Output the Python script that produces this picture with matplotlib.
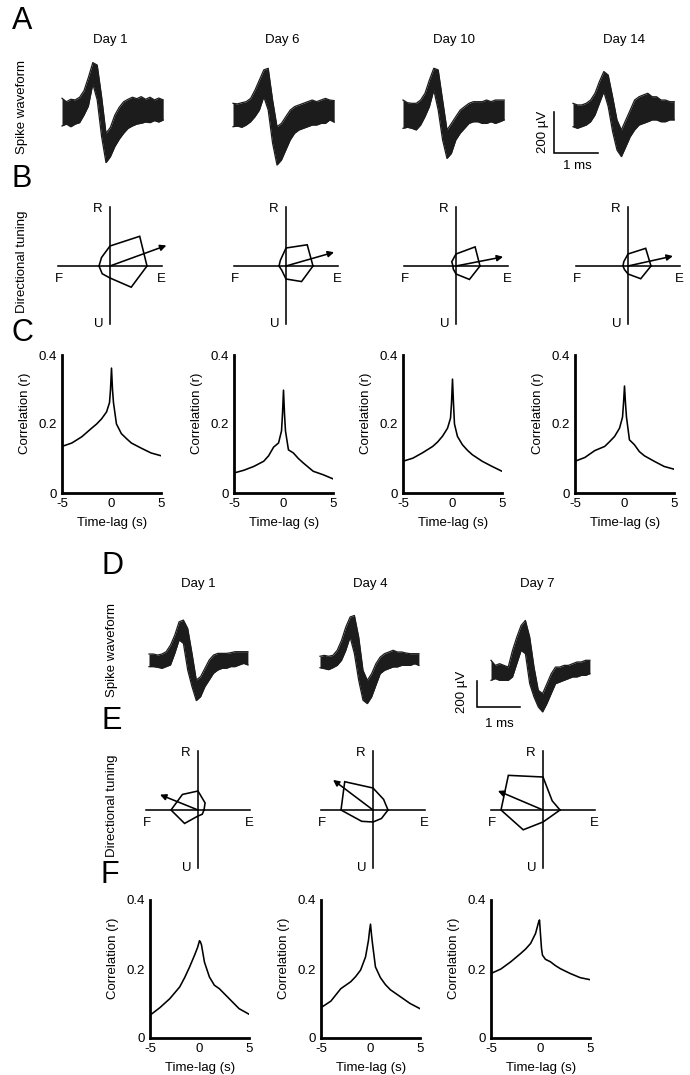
import numpy as np
import matplotlib
matplotlib.use('Agg')
import matplotlib.pyplot as plt

plt.rcParams['font.family'] = ['Liberation Sans', 'DejaVu Sans']
plt.rcParams['axes.unicode_minus'] = False

# ---------------- data ----------------
wave_t = [0.0, 0.1, 0.2, 0.3, 0.4, 0.5, 0.6, 0.7, 0.8, 0.9, 1.0, 1.1,
          1.2, 1.3, 1.4, 1.5, 1.6, 1.7, 1.8, 1.9, 2.0, 2.1, 2.2, 2.3]  # ms

# Panel A waveform envelopes (uV)
a_days = ['Day 1', 'Day 6', 'Day 10', 'Day 14']
a_upper = [
    [67, 50, 62, 59, 72, 104, 169, 241, 229, 75, -104, -75, -15, 23, 50, 62, 72, 65, 75, 62, 72, 59, 68, 59],
    [57, 54, 60, 65, 81, 122, 171, 220, 228, 73, -57, -41, -8, 24, 41, 49, 57, 65, 73, 65, 73, 81, 73, 70],
    [73, 60, 57, 57, 73, 106, 171, 228, 220, 73, -73, -41, -8, 24, 41, 57, 65, 65, 65, 73, 65, 73, 73, 73],
    [57, 49, 49, 57, 73, 106, 163, 212, 195, 89, -24, -73, -24, 24, 73, 89, 98, 106, 89, 89, 73, 73, 65, 65],
]
a_lower = [
    [-68, -59, -72, -59, -52, -15, 29, 137, 59, -120, -247, -218, -169, -133, -104, -80, -68, -59, -55, -49, -52, -42, -49, -39],
    [-57, -54, -60, -49, -33, -8, 24, 89, 24, -138, -244, -220, -171, -122, -89, -73, -65, -57, -49, -49, -41, -41, -24, -35],
    [-65, -60, -65, -73, -49, -8, 41, 122, 24, -122, -212, -187, -122, -89, -65, -41, -33, -33, -41, -41, -33, -41, -33, -24],
    [-57, -65, -57, -49, -33, 0, 57, 114, 41, -81, -171, -203, -155, -106, -73, -49, -41, -33, -24, -24, -33, -33, -24, -24],
]

# Panel D waveform envelopes (uV)
d_days = ['Day 1', 'Day 4', 'Day 7']
d_upper = [
    [46, 46, 38, 46, 64, 115, 192, 294, 307, 243, 51, -154, -128, -64, 0, 38, 51, 51, 51, 56, 64, 64, 64, 64],
    [44, 51, 44, 51, 90, 166, 269, 346, 358, 192, -64, -141, -90, -13, 38, 64, 77, 90, 77, 77, 69, 64, 64, 64],
    [90, 51, 64, 51, 38, 166, 269, 358, 397, 269, 38, -141, -166, -90, -13, 38, 38, 51, 51, 64, 77, 77, 90, 90],
]
d_lower = [
    [-51, -51, -56, -64, -51, -38, 51, 154, 128, -77, -205, -312, -282, -205, -154, -102, -77, -64, -64, -51, -51, -38, -26, -38],
    [-44, -51, -59, -44, -26, 13, 90, 192, 64, -141, -294, -320, -269, -179, -90, -64, -51, -38, -38, -26, -26, -26, -13, -26],
    [-64, -51, -64, -64, -64, -38, 64, 166, 141, -90, -192, -269, -307, -243, -166, -90, -77, -64, -51, -38, -38, -26, -26, -13],
]

# Directional tuning (8 directions; radius in arbitrary units)
tuning_dirs = [0, 45, 90, 135, 180, 225, 270, 315]
b_radii = [
    [37, 42, 20, 12, 11, 11, 12, 30],
    [27, 30, 18, 8, 7, 6, 13, 22],
    [24, 27, 12, 6, 3, 4, 8, 19],
    [23, 25, 12, 6, 5, 5, 8, 18],
]
b_pd_angle = [20, 16, 11, 12.5]
b_pd_len = [60, 50, 48, 46]
e_radii = [
    [6, 10, 19, 22, 27, 19, 6, 6],
    [15, 15, 22, 40, 32, 16, 12, 12],
    [17, 13, 33, 49, 42, 28, 12, 10],
]
e_pd_angle = [158, 143, 157]
e_pd_len = [41, 50, 49]

# Cross-correlation
lags = [-5, -4, -3, -2, -1.5, -1, -0.5, -0.2, -0.1, 0, 0.1, 0.2, 0.5, 1, 1.5, 2, 3, 4, 5]
c_corr = [
    [.135, .145, .163, .188, .200, .215, .235, .262, .300, .362, .300, .262, .200, .172, .158, .145, .130, .116, .108],
    [.058, .066, .077, .092, .108, .133, .145, .180, .230, .298, .230, .180, .125, .116, .100, .087, .063, .053, .041],
    [.092, .101, .117, .135, .148, .165, .188, .217, .260, .330, .260, .200, .164, .140, .124, .111, .092, .077, .063],
    [.092, .103, .123, .135, .149, .164, .188, .220, .260, .310, .260, .220, .154, .140, .120, .108, .092, .077, .069],
]
f_corr = [
    [.066, .088, .114, .148, .175, .206, .240, .262, .272, .282, .278, .270, .220, .177, .153, .143, .114, .085, .069],
    [.088, .107, .143, .163, .178, .197, .235, .284, .310, .330, .300, .274, .206, .175, .155, .140, .120, .100, .085],
    [.187, .200, .221, .245, .258, .274, .303, .335, .342, .300, .260, .240, .228, .221, .210, .201, .187, .175, .169],
]

# ---------------- layout helpers ----------------
W, H = 690, 1075
fig = plt.figure(figsize=(W / 100, H / 100), dpi=100)
FS = 9.5
LW = 1.15


def rect(x0, y0, w, h):
    return [x0 / W, 1 - (y0 + h) / H, w / W, h / H]


def ftext(x, y, s, **kw):
    kw.setdefault('fontsize', FS)
    fig.text(x / W, 1 - y / H, s, ha='center', va='center', **kw)


def waveform(t0, base, px_ms, px_uv, upper, lower):
    left, right, half = 20, 130, 75
    ax = fig.add_axes(rect(t0 - left, base - half, left + right, 2 * half))
    ax.set_xlim(-left / px_ms, right / px_ms)
    ax.set_ylim(-half / px_uv, half / px_uv)
    ax.axis('off')
    ax.fill_between(wave_t, lower, upper, color='#1c1c1c', lw=0)
    ax.plot(wave_t, upper, color='#1c1c1c', lw=0.9)
    ax.plot(wave_t, lower, color='#1c1c1c', lw=0.9)
    return ax


def scalebar(ax, tx, uy, lab_t, lab_uv, ms_t, ms_uv):
    ax.plot([tx, tx, tx + 1.0], [uy + 200, uy, uy], color='k', lw=LW,
            clip_on=False, solid_joinstyle='miter')
    ax.text(lab_t, lab_uv, '200 µV', rotation=90, ha='center', va='center', fontsize=FS)
    ax.text(ms_t, ms_uv, '1 ms', ha='center', va='center', fontsize=FS)


def tuning(cx, cy, radii, pd_ang, pd_len):
    s = 70
    ax = fig.add_axes(rect(cx - s, cy - s, 2 * s, 2 * s))
    ax.set_xlim(-s, s)
    ax.set_ylim(-s, s)
    ax.axis('off')
    ax.plot([-52, 52], [0, 0], color='k', lw=LW)
    ax.plot([0, 0], [-58, 59], color='k', lw=LW)
    ang = np.deg2rad(tuning_dirs)
    r = np.asarray(radii, float)
    x, y = r * np.cos(ang), r * np.sin(ang)
    ax.plot(np.append(x, x[0]), np.append(y, y[0]), color='k', lw=LW,
            solid_joinstyle='miter')
    a = np.deg2rad(pd_ang)
    ax.annotate('', xy=(pd_len * np.cos(a), pd_len * np.sin(a)), xytext=(0, 0),
                arrowprops=dict(arrowstyle='-|>', color='k', lw=LW,
                                mutation_scale=9, shrinkA=0, shrinkB=0))
    for (tx, ty, t) in [(-12, 57, 'R'), (-51, -13, 'F'), (51, -13, 'E'), (-11, -58, 'U')]:
        ax.text(tx, ty, t, ha='center', va='center', fontsize=FS)


def corr(x0, ytop, vals):
    w, h = 99, 138
    ax = fig.add_axes(rect(x0, ytop, w, h))
    ax.plot(lags, vals, color='k', lw=LW)
    ax.set_xlim(-5, 5)
    ax.set_ylim(0, 0.4)
    for sp in ['top', 'right']:
        ax.spines[sp].set_visible(False)
    for sp in ['left', 'bottom']:
        ax.spines[sp].set_linewidth(2.0)
    ax.set_xticks([-5, 0, 5])
    ax.set_xticklabels(['-5', '0', '5'])
    ax.set_yticks([0, 0.2, 0.4])
    ax.set_yticklabels(['0', '0.2', '0.4'])
    ax.tick_params(length=0, pad=3.5, labelsize=FS)
    ax.patch.set_alpha(0)
    ftext(x0 - 37, ytop + 58, 'Correlation (r)', rotation=90)
    ftext(x0 + 50, ytop + 168, 'Time-lag (s)')
    return ax


# ---------------- panel A ----------------
a_t0 = [62, 233, 403, 573]
a_base = [112, 115, 115, 115]
a_title_x = [110, 282, 454, 624]
for i in range(4):
    ax = waveform(a_t0[i], a_base[i], 44, 0.205, a_upper[i], a_lower[i])
    ftext(a_title_x[i], 40, a_days[i])
    if i == 3:
        scalebar(ax, -0.43, -185, -0.68, -83, 0.11, -249)
ftext(22, 107, 'Spike waveform', rotation=90)

# ---------------- panel B ----------------
b_cx = [110, 286, 456, 628]
for i in range(4):
    tuning(b_cx[i], 266, b_radii[i], b_pd_angle[i], b_pd_len[i])
ftext(22, 262, 'Directional tuning', rotation=90)

# ---------------- panel C ----------------
c_x0 = [62, 234, 403, 575]
for i in range(4):
    corr(c_x0[i], 355, c_corr[i])

# ---------------- panel D ----------------
d_t0 = [149, 320, 491]
d_base = [660, 662, 672]
d_title_x = [198, 370, 537]
for i in range(3):
    ax = waveform(d_t0[i], d_base[i], 43, 0.13, d_upper[i], d_lower[i])
    ftext(d_title_x[i], 584, d_days[i])
    if i == 2:
        scalebar(ax, -0.33, -269, -0.67, -154, 0.19, -400)
ftext(112, 650, 'Spike waveform', rotation=90)

# ---------------- panel E ----------------
e_cx = [198, 373, 543]
for i in range(3):
    tuning(e_cx[i], 810, e_radii[i], e_pd_angle[i], e_pd_len[i])
ftext(112, 806, 'Directional tuning', rotation=90)

# ---------------- panel F ----------------
f_x0 = [150, 321, 491]
for i in range(3):
    corr(f_x0[i], 900, f_corr[i])

# ---------------- panel letters ----------------
for (x, y, t) in [(22, 21, 'A'), (22, 179, 'B'), (22, 333, 'C'),
                  (113, 566, 'D'), (112, 721, 'E'), (110, 875, 'F')]:
    ftext(x, y, t, fontsize=22)

fig.savefig('out.png', dpi=100)
